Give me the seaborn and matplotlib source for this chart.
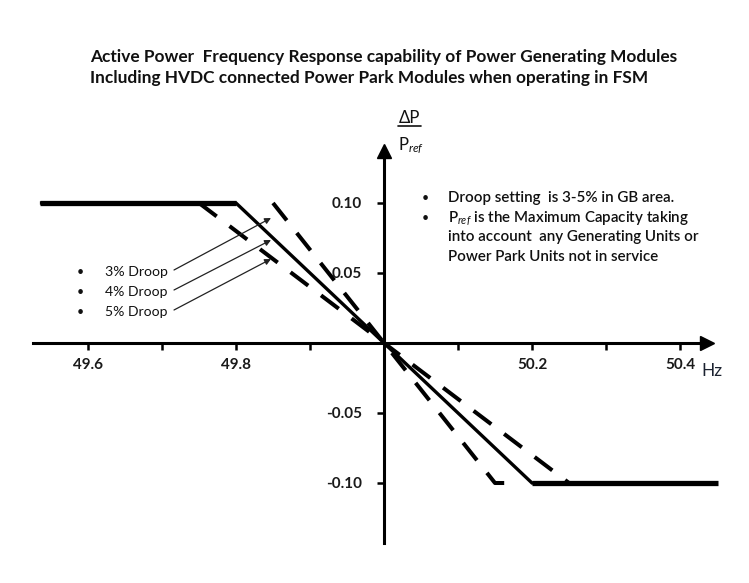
import matplotlib
matplotlib.use("Agg")
import matplotlib.pyplot as plt
import seaborn as sns
from matplotlib.lines import Line2D

# ---------------- data ----------------
freq_4pct = [49.535, 49.80, 50.20, 50.451]
dp_4pct = [0.10, 0.10, -0.10, -0.10]
freq_3pct = [49.85, 50.15, 50.17]
dp_3pct = [0.10, -0.10, -0.10]
freq_5pct = [49.75, 50.25]
dp_5pct = [0.10, -0.10]

x_major = [49.6, 49.8, 50.2, 50.4]
x_major_labels = ["49.6", "49.8", "50.2", "50.4"]
x_minor = [49.7, 49.9, 50.1, 50.3]
y_ticks = [-0.10, -0.05, 0.05, 0.10]
y_tick_labels = ["-0.10", "-0.05", "0.05", "0.10"]

droop_labels = ["3% Droop", "4% Droop", "5% Droop"]
title_lines = [
    "Active Power  Frequency Response capability of Power Generating Modules",
    "Including HVDC connected Power Park Modules when operating in FSM",
]
note_lines = [
    "Droop setting  is 3-5% in GB area.",
    r"P$_{\mathit{ref}}$ is the Maximum Capacity taking",
    "into account  any Generating Units or",
    "Power Park Units not in service",
]

# ---------------- layout ----------------
W, H = 749, 583
F0 = 50.0
X0, SX = 384, 740.0   # pixel of 50 Hz, pixels per Hz
Y0, SY = 343, 1400.0  # pixel of 0, pixels per unit

sns.set_theme(style="white")
plt.rcParams["font.family"] = ["Lato", "DejaVu Sans"]
plt.rcParams["mathtext.fontset"] = "custom"
plt.rcParams["mathtext.rm"] = "Lato"
plt.rcParams["mathtext.it"] = "Lato:italic"
plt.rcParams["mathtext.bf"] = "Lato:bold"

fig = plt.figure(figsize=(W / 100, H / 100), dpi=100)
fig.patch.set_facecolor("white")
ax = fig.add_axes([0, 0, 1, 1])
ax.set_facecolor("none")
ax.set_xlim(F0 - X0 / SX, F0 + (W - X0) / SX)
ax.set_ylim(-(H - Y0) / SY, Y0 / SY)


def px(x, y):
    return (x / W, 1 - y / H)


# ---- lines ----
ink = "black"
sns.lineplot(x=freq_4pct, y=dp_4pct, ax=ax, color=ink, lw=2.4,
             solid_capstyle="butt", solid_joinstyle="miter")
sns.lineplot(x=freq_4pct[:2], y=dp_4pct[:2], ax=ax, color=ink, lw=3.8,
             solid_capstyle="butt")
sns.lineplot(x=freq_4pct[2:], y=dp_4pct[2:], ax=ax, color=ink, lw=3.8,
             solid_capstyle="butt")
sns.lineplot(x=freq_3pct, y=dp_3pct, ax=ax, color=ink, lw=2.9,
             linestyle=(0, (5.5, 4)), dash_capstyle="butt")
sns.lineplot(x=freq_5pct, y=dp_5pct, ax=ax, color=ink, lw=2.9,
             linestyle=(0, (5.5, 4)), dash_capstyle="butt")

# ---- axes through origin ----
for s in ["top", "right"]:
    ax.spines[s].set_visible(False)
ax.spines["left"].set_position(("data", F0))
ax.spines["bottom"].set_position(("data", 0))
ax.spines["left"].set_bounds(-(543 - Y0) / SY, (Y0 - 150) / SY)
ax.spines["bottom"].set_bounds(F0 - (X0 - 33) / SX, F0 + (706 - X0) / SX)
for s in ["left", "bottom"]:
    ax.spines[s].set_linewidth(2.2)
    ax.spines[s].set_color(ink)
    ax.spines[s].set_zorder(1)
# arrow heads at ends of the axes
ax.plot(F0 + (707 - X0) / SX, 0, marker=">", ms=10, color=ink, clip_on=False)
ax.plot(F0, (Y0 - 151) / SY, marker="^", ms=10, color=ink, clip_on=False)

ax.set_xticks(x_major)
ax.set_xticklabels(x_major_labels)
ax.set_xticks(x_minor, minor=True)
ax.set_yticks(y_ticks)
ax.set_yticklabels(y_tick_labels)
ax.tick_params(axis="x", which="both", direction="out", length=5, width=1.8,
               color=ink, bottom=True, pad=6)
ax.tick_params(axis="y", which="both", direction="out", length=5, width=1.8,
               color=ink, left=True, pad=11)
for lab in ax.get_xticklabels() + ax.get_yticklabels():
    lab.set_fontweight("bold")
    lab.set_fontsize(11)
    lab.set_color("#1a1a1a")
ax.grid(False)

# ---- texts ----
fig.canvas.draw()
rend = fig.canvas.get_renderer()


def fit(t, width_px):
    bb = t.get_window_extent(renderer=rend)
    t.set_fontsize(t.get_fontsize() * width_px / bb.width)


# title
t1 = fig.text(*px(90, 62), title_lines[0], ha="left", va="baseline",
              fontsize=13, fontweight="bold", color="#111111")
t2 = fig.text(*px(90, 83.5), title_lines[1], ha="left", va="baseline",
              fontsize=13, fontweight="bold", color="#111111")
fit(t1, 585)
t2.set_fontsize(t1.get_fontsize())

# axis labels
fig.text(*px(409, 118), "ΔP", ha="center", va="center", fontsize=12,
         color="#111111")
fig.add_artist(Line2D([398 / W, 421 / W], [1 - 126 / H, 1 - 126 / H],
                      color="#111111", lw=1.2))
fig.text(*px(398, 150), r"P$_{\mathit{ref}}$", ha="left", va="baseline",
         fontsize=12, color="#111111")
fig.text(*px(712, 371), "Hz", ha="center", va="center", fontsize=12.5,
         color="#1b2230")

# note box
note_y = [198, 218, 237.5, 257]
for i, (yy, line) in enumerate(zip(note_y, note_lines)):
    if i < 2:
        fig.text(*px(425, yy), "•", ha="center", va="center", fontsize=9,
                 color="#111111")
    t = fig.text(*px(448, yy), line, ha="left", va="center", fontsize=10,
                 color="#111111", fontweight="semibold")
    if i == 0:
        fit(t, 227)
        note_fs = t.get_fontsize()
    else:
        t.set_fontsize(note_fs)

# droop labels with arrows
leg_y = [272, 292, 312]
tip_y = [218, 240, 259]
for lab, yy, ty in zip(droop_labels, leg_y, tip_y):
    fig.text(*px(80, yy), "•", ha="center", va="center", fontsize=9,
             color="#111111")
    t = fig.text(*px(105, yy), lab, ha="left", va="center", fontsize=10,
                 color="#111111")
    fit(t, 63)
    ax.annotate("", xy=px(271, ty), xycoords="figure fraction",
                xytext=px(174, yy - 2), textcoords="figure fraction",
                arrowprops=dict(arrowstyle="-|>", color="#222222", lw=0.9,
                                mutation_scale=9, shrinkA=0, shrinkB=0))

fig.savefig("out.png", dpi=100, facecolor="white")
